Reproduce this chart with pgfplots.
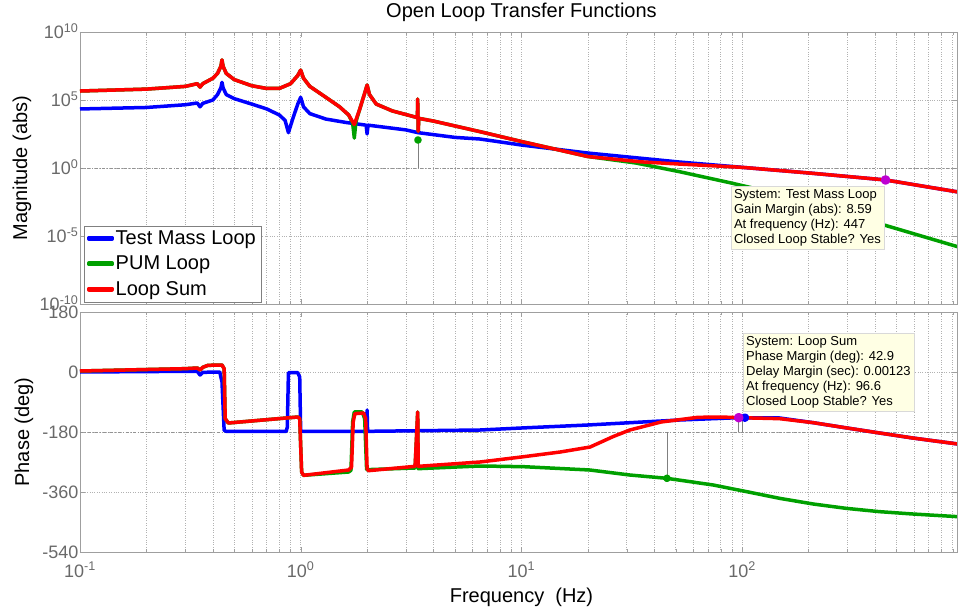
\documentclass[border=0pt]{standalone}
\usepackage{pgfplots}
\pgfplotsset{compat=1.18}
\usepackage{fontspec}
\setmainfont{Liberation Sans}
\definecolor{mblue}{RGB}{0,0,255}
\definecolor{mgreen}{RGB}{0,160,0}
\definecolor{mred}{RGB}{255,0,0}
\definecolor{tipbg}{RGB}{255,255,228}
\definecolor{tickgray}{RGB}{105,105,105}
\definecolor{mmag}{RGB}{190,0,210}
\newcommand{\tp}[1]{10\textsuperscript{#1}}
\pgfplotsset{
  every axis/.append style={
    scale only axis, width=877pt,
    xmin=0.1, xmax=942,
    xtick={0.1,1,10,100},
    minor xtick={0.2,0.3,0.4,0.5,0.6,0.7,0.8,0.9,2,3,4,5,6,7,8,9,20,30,40,50,60,70,80,90,200,300,400,500,600,700,800,900},
    xmajorgrids, xminorgrids, ymajorgrids,
    grid style={dotted, gray!60},
    minor grid style={dotted, gray!60},
    axis line style={gray!75},
    tick style={gray!75},
    tick align=inside, major tick length=5pt, minor tick length=3pt,
    tick label style={font=\fontsize{18}{18}\selectfont, text=tickgray},
    yticklabel style={anchor=base east, yshift=-6.5pt, xshift=2pt},
    label style={font=\fontsize{20}{20}\selectfont},
    title style={font=\fontsize{20}{20}\selectfont},
  },
  every axis plot/.append style={line width=3.5pt, line join=round},
}
\begin{document}
\begin{tikzpicture}
\useasboundingbox (-80pt,32pt) rectangle (878pt,-577pt);
% ---------------- Magnitude ----------------
\begin{axis}[xmode=log, ymode=log, at={(0pt,0pt)}, anchor=north west, height=272pt,
  ymin=1e-10, ymax=1e10,
  ytick={1e-10,1e-5,1,1e5,1e10}, yticklabels={\tp{-10},\tp{-5},\tp{0},\tp{5},\tp{10}},
  yminorticks=false,
  extra y ticks={1}, extra y tick labels={},
  extra y tick style={grid=major, major grid style={dashdotted, gray!85, line width=0.6pt}, major tick length=0pt},
  xticklabels={},
  title={Open Loop Transfer Functions},
  title style={at={(axis description cs:0.5,1)}, anchor=base, yshift=8pt, xshift=3pt},
  ylabel={Magnitude (abs)},
  ylabel style={at={(axis description cs:-0.0661,0.5)}, anchor=center},
  legend style={at={(axis description cs:0.0046,0.0074)}, anchor=south west,
    draw=gray, fill=white, inner xsep=3pt, inner ysep=3pt, row sep=6pt,
    font=\fontsize{20}{22}\selectfont, cells={anchor=west}},
  legend image code/.code={\fill[#1] (0pt,-0.8pt) rectangle (23pt,0.8pt);},
]
\addplot[mblue] coordinates {
(0.1,2.19e4) (0.2,2.82e4) (0.3,4.47e4) (0.34,6.03e4) (0.35,3.16e4) (0.36,5.62e4) (0.4,1e5) (0.42,2.5e5) (0.435,7.9e5) (0.44,2e6) (0.445,7.9e5) (0.46,2.5e5) (0.5,1.26e5) (0.6,5.01e4) (0.7,2.24e4) (0.8,7.94e3) (0.85,3.16e3) (0.88,398) (0.92,3.98e3) (0.97,5.01e4) (1.0,1.58e5) (1.03,3.16e4) (1.1,1e4) (1.3,3.98e3) (1.6,2.24e3) (1.98,1.41e3) (2.0,316) (2.02,1.41e3) (3,631) (3.4,398) (5,178) (6.5,135) (10,49) (20,12.6) (52,2.75) (100,1.12) (209,0.407) (447,0.132) (950,0.0174)};
\addplot[mgreen] coordinates {
(0.1,4.57e5) (0.2,6.31e5) (0.3,1e6) (0.34,1.58e6) (0.35,8.91e5) (0.36,1.58e6) (0.4,3.98e6) (0.42,9e6) (0.435,3e7) (0.44,8.91e7) (0.445,3e7) (0.46,9e6) (0.5,3.16e6) (0.6,1.12e6) (0.7,7.08e5) (0.8,7.08e5) (0.9,1.58e6) (0.97,6.31e6) (1.0,1.58e7) (1.03,3.98e6) (1.1,1e6) (1.3,1.58e5) (1.5,3.16e4) (1.65,7.94e3) (1.72,2e3) (1.75,158) (1.78,2.51e3) (1.85,2e4) (1.95,3.16e5) (2.0,1.26e6) (2.05,2.51e5) (2.2,5.01e4) (2.6,1.58e4) (3.3,5.62e3) (3.38,5.01e3) (3.39,1.17e5) (3.41,501) (3.43,4.47e3) (4,2.82e3) (6.5,468) (10,89) (20,7) (33,2.34) (52,0.537) (88,0.0832) (150,0.0112) (250,1.12e-3) (440,6.46e-5) (950,1.62e-6)};
\addplot[mred] coordinates {
(0.1,4.57e5) (0.2,6.31e5) (0.3,1e6) (0.34,1.58e6) (0.35,8.91e5) (0.36,1.58e6) (0.4,3.98e6) (0.42,9e6) (0.435,3e7) (0.44,8.91e7) (0.445,3e7) (0.46,9e6) (0.5,3.16e6) (0.6,1.12e6) (0.7,7.08e5) (0.8,7.08e5) (0.9,1.58e6) (0.97,6.31e6) (1.0,1.58e7) (1.03,3.98e6) (1.1,1e6) (1.3,1.58e5) (1.5,3.16e4) (1.65,7.94e3) (1.75,1.58e3) (1.85,2e4) (1.95,3.16e5) (2.0,1.26e6) (2.05,2.51e5) (2.2,5.01e4) (2.6,1.58e4) (3.3,5.62e3) (3.38,5.01e3) (3.39,1.17e5) (3.41,501) (3.43,4.47e3) (4,2.82e3) (6.5,468) (10,89) (20,7) (35,2.82) (52,1.95) (100,1.12) (209,0.407) (447,0.132) (950,0.0174)};
\addplot[gray, line width=0.6pt] coordinates {(3.4,1) (3.4,115)};
\addplot[gray, line width=0.6pt] coordinates {(447,1) (447,0.132)};
\addplot[only marks, mark=*, mark size=2pt, mgreen] coordinates {(3.4,115)};
\addplot[only marks, mark=*, mark size=3pt, mmag] coordinates {(447,0.132)};
\legend{Test Mass Loop, PUM Loop, Loop Sum}
\node[anchor=north west, fill=tipbg, draw=gray!30, inner sep=3pt, align=left,
  font=\fontsize{13}{15}\selectfont] at (axis cs:89,0.048)
  {System: Test Mass Loop\\Gain Margin (abs): 8.59\\At frequency (Hz): 447\\Closed Loop Stable? Yes};
\end{axis}
% ---------------- Phase ----------------
\begin{axis}[xmode=log, at={(0pt,-280pt)}, anchor=north west, height=240pt,
  ymin=-540, ymax=180,
  ytick={-540,-360,-180,0,180}, yticklabels={-540,-360,-180,0,180},
  xticklabels={\tp{-1},\tp{0},\tp{1},\tp{2}},
  xticklabel style={anchor=base, yshift=-25pt},
  xlabel={Frequency\ \ (Hz)},
  xlabel style={at={(axis description cs:0.5,0)}, anchor=base, yshift=-50pt, xshift=3pt},
  ylabel={Phase (deg)},
  ylabel style={at={(axis description cs:-0.0639,0.5)}, anchor=center},
]
\addplot[gray!85, line width=0.6pt, dashdotted, forget plot] coordinates {(0.1,-180) (942,-180)};
\addplot[mblue] coordinates {
(0.1,0) (0.3,2) (0.34,2) (0.35,-9) (0.36,-1) (0.43,0) (0.44,-30) (0.45,-175) (0.46,-178) (0.86,-178) (0.87,-165) (0.88,-2) (0.97,-2) (0.99,-15) (1.0,-178) (1.98,-178) (2.0,-114) (2.01,-178) (6.5,-174) (10,-168) (20,-159) (52,-144) (96.6,-137) (148,-138) (210,-152) (299,-168) (420,-183) (593,-198) (950,-216)};
\addplot[mgreen] coordinates {
(0.1,3) (0.3,10) (0.34,12) (0.35,6) (0.36,14) (0.38,20) (0.44,21) (0.45,10) (0.455,-140) (0.47,-153) (0.97,-135) (0.99,-140) (1.01,-300) (1.03,-310) (1.65,-300) (1.69,-295) (1.72,-150) (1.75,-120) (1.9,-120) (1.95,-140) (1.99,-293) (3.3,-288) (3.39,-120) (3.41,-290) (6.5,-282) (10.2,-284) (20.4,-294) (31,-309) (45.7,-319) (74,-339) (105,-359) (148,-379) (210,-396) (296,-409) (420,-419) (594,-426) (950,-434)};
\addplot[mred] coordinates {
(0.1,3) (0.3,10) (0.34,12) (0.35,6) (0.36,14) (0.38,20) (0.44,21) (0.45,10) (0.455,-140) (0.47,-153) (0.97,-135) (0.99,-140) (1.01,-300) (1.03,-310) (1.65,-294) (1.7,-285) (1.73,-150) (1.76,-125) (1.93,-123) (1.97,-140) (2.0,-290) (2.03,-296) (3.3,-283) (3.39,-120) (3.41,-283) (6.5,-270) (10,-255) (15,-240) (20.5,-225) (26,-194) (31,-174) (43,-150) (63,-136) (80,-135) (96.6,-137) (148,-140) (210,-152) (299,-168) (420,-183) (593,-198) (950,-216)};
\addplot[gray, line width=0.6pt, forget plot] coordinates {(45.7,-180) (45.7,-319)};
\addplot[gray, line width=0.6pt, forget plot] coordinates {(96.6,-180) (96.6,-137)};
\addplot[gray, line width=0.6pt, forget plot] coordinates {(100,-180) (100,-137)};
\addplot[only marks, mark=*, mark size=2pt, mgreen, forget plot] coordinates {(45.7,-319)};
\addplot[only marks, mark=*, mark size=2.5pt, mblue, forget plot] coordinates {(103,-137)};
\addplot[only marks, mark=*, mark size=3pt, mmag, forget plot] coordinates {(96.6,-137)};
\node[anchor=north west, fill=tipbg, draw=gray!30, inner sep=3pt, align=left,
  font=\fontsize{13}{15}\selectfont] at (axis cs:101,117)
  {System: Loop Sum\\Phase Margin (deg): 42.9\\Delay Margin (sec): 0.00123\\At frequency (Hz): 96.6\\Closed Loop Stable? Yes};
\end{axis}
\end{tikzpicture}
\end{document}
